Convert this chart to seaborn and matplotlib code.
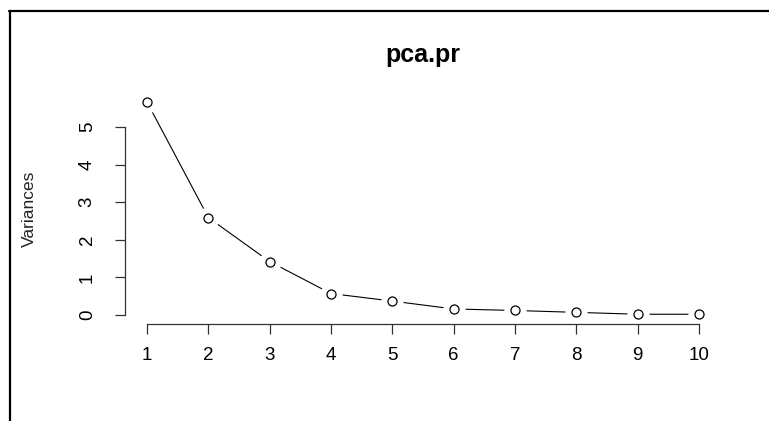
import numpy as np
import pandas as pd
import seaborn as sns
import matplotlib.pyplot as plt
from matplotlib.lines import Line2D

# scree plot values
components = [1, 2, 3, 4, 5, 6, 7, 8, 9, 10]
variances = [5.66, 2.59, 1.42, 0.57, 0.37, 0.16, 0.12, 0.07, 0.02, 0.02]
yticks = [0, 1, 2, 3, 4, 5]
title = 'pca.pr'
ylabel = 'Variances'

sns.set_theme(style='white')
plt.rcParams['font.family'] = ['Liberation Sans', 'DejaVu Sans']
plt.rcParams['text.color'] = 'black'
plt.rcParams['xtick.color'] = '#333333'
plt.rcParams['ytick.color'] = '#333333'
plt.rcParams['xtick.labelcolor'] = 'black'
plt.rcParams['ytick.labelcolor'] = 'black'

df = pd.DataFrame({'comp': components, 'var': variances})

fig = plt.figure(figsize=(7.69, 4.21), dpi=100)
# plot region placed like R's default margins (pixels -> figure fractions)
ax = fig.add_axes([125 / 769, (421 - 323.5) / 421, 596 / 769, 229.8 / 421])

sns.lineplot(data=df, x='comp', y='var', ax=ax, color='black', lw=0.8, zorder=1)
# type="b": gaps in the line around the points
ax.plot(df['comp'], df['var'], ls='none', marker='o', ms=15,
        mfc='white', mec='white', zorder=2)
ax.plot(df['comp'], df['var'], ls='none', marker='o', ms=6.5,
        mfc='white', mec='black', mew=0.9, zorder=3)

pad_x = 0.04 * (max(components) - min(components))
pad_y = 0.04 * max(variances)
ax.set_xlim(min(components) - pad_x, max(components) + pad_x)
ax.set_ylim(0 - pad_y, max(variances) + pad_y)

ax.set_xticks(components)
ax.set_yticks(yticks)
ax.set_yticklabels([str(t) for t in yticks], rotation=90, va='center')
ax.set_xlabel('')
ax.set_ylabel(ylabel, fontsize=12.5, labelpad=30, color='#222222')

for side in ['top', 'right']:
    ax.spines[side].set_visible(False)
ax.spines['left'].set_bounds(min(yticks), max(yticks))
ax.spines['bottom'].set_bounds(min(components), max(components))
for side in ['left', 'bottom']:
    ax.spines[side].set_color('#333333')
    ax.spines[side].set_linewidth(0.9)

ax.tick_params(axis='x', direction='out', length=7, width=0.9,
               pad=10, labelsize=13.5, bottom=True)
ax.tick_params(axis='y', direction='out', length=7, width=0.9,
               pad=14, labelsize=13.5, left=True)

fig.text(423 / 769, 1 - 55 / 421, title, ha='center', va='center',
         fontsize=18, fontweight='bold', color='black')

# screenshot frame on top and left
fig.add_artist(Line2D([9 / 769, 1], [1 - 11 / 421, 1 - 11 / 421],
                      transform=fig.transFigure, color='black', lw=1.6))
fig.add_artist(Line2D([10 / 769, 10 / 769], [0, 1 - 11 / 421],
                      transform=fig.transFigure, color='black', lw=1.6))

fig.savefig('out.png', dpi=100)
